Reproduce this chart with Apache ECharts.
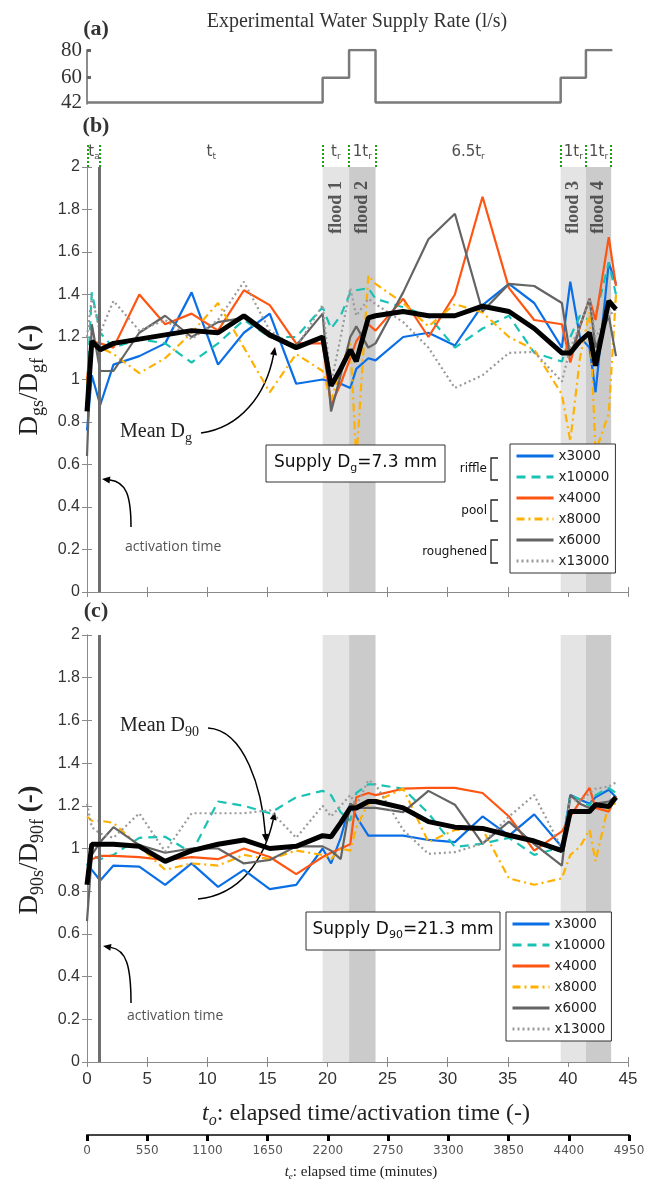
<!DOCTYPE html>
<html>
<head>
<meta charset="utf-8">
<script src="https://cdn.jsdelivr.net/npm/echarts@6/dist/echarts.min.js"></script>
<style>
html, body { margin: 0; padding: 0; background: #fff; }
#chart { width: 645px; height: 1182px; }
</style>
</head>
<body>
<div id="chart"></div>
<script>
// supply rate steps (panel a)
const flowT = [0, 19.6, 21.8, 24.0, 39.4, 41.5, 43.7];
const flowQ = [42, 60, 80, 42, 60, 80, 80];

// flood bands and phase markers
const floodStart = [19.6, 21.8, 39.4, 41.5];
const floodEnd = [21.8, 24.0, 41.5, 43.6];
const floodNames = ['flood 1', 'flood 2', 'flood 3', 'flood 4'];
const phaseEdges = [0.08, 1.08, 19.6, 21.8, 24.0, 39.4, 41.5, 43.6];
const phaseText = ['{t|t}{s|a}', '{t|t}{s|t}', '{t|t}{s|r}', '{t|1t}{s|r}', '{t|6.5t}{s|r}', '{t|1t}{s|r}', '{t|1t}{s|r}'];
const tAct = 1.05;

// sample times (elapsed time / activation time)
const tSample = [0, 0.4, 1.1, 2.2, 4.35, 6.5, 8.7, 10.9, 13.05, 15.2, 17.4, 19.6, 20.3, 21.1, 21.9, 22.4,
  23.4, 24.0, 26.3, 28.4, 30.6, 32.9, 35.1, 37.2, 39.5, 40.2, 41.0, 41.8, 42.3, 43.4, 44.0];

// panel b: Dgs/Dgf
const dgB_x3000 = [0.76, 1.02, 0.88, 1.07, 1.11, 1.17, 1.41, 1.07, 1.22, 1.31, 0.98, 1.00, 0.99, 0.98, 0.96, 1.05,
  1.10, 1.09, 1.20, 1.22, 1.16, 1.35, 1.45, 1.36, 1.15, 1.46, 1.20, 1.15, 0.94, 1.55, 1.45];
const dgB_x10000 = [0.95, 1.41, 1.22, 1.15, 1.19, 1.17, 1.08, 1.17, 1.28, 1.20, 1.20, 1.34, 1.24, 1.30, 1.41, 1.42,
  1.43, 1.38, 1.34, 1.30, 1.15, 1.24, 1.30, 1.125, 1.085, 1.20, 1.30, 1.28, 1.30, 1.55, 1.40];
const dgB_x4000 = [1.0, 1.18, 1.17, 1.15, 1.40, 1.26, 1.31, 1.23, 1.42, 1.35, 1.17, 1.17, 0.88, 0.98, 1.10, 1.18,
  1.26, 1.23, 1.38, 1.20, 1.40, 1.86, 1.43, 1.28, 1.26, 1.08, 1.25, 1.38, 1.28, 1.67, 1.44];
const dgB_x8000 = [0.98, 1.17, 1.15, 1.12, 1.03, 1.10, 1.22, 1.36, 1.15, 0.94, 1.12, 1.04, 0.90, 1.05, 1.18, 0.62,
  1.49, 1.45, 1.36, 1.25, 1.355, 1.315, 1.20, 1.14, 0.93, 0.71, 1.10, 1.32, 0.66, 0.84, 1.40];
const dgB_x6000 = [0.64, 1.26, 1.04, 1.04, 1.22, 1.30, 1.20, 1.27, 1.29, 1.20, 1.16, 1.31, 0.85, 1.02, 1.20, 1.25,
  1.15, 1.17, 1.41, 1.66, 1.78, 1.32, 1.45, 1.44, 1.36, 1.11, 1.25, 1.38, 1.15, 1.30, 1.11];
const dgB_x13000 = [1.20, 1.39, 1.22, 1.37, 1.23, 1.28, 1.19, 1.28, 1.46, 1.23, 1.15, 1.35, 0.98, 1.20, 1.43, 1.30,
  1.38, 1.355, 1.27, 1.15, 0.96, 1.02, 1.125, 1.13, 0.99, 1.15, 1.25, 1.38, 1.20, 1.30, 1.33];
const dgB_mean = [0.85, 1.18, 1.14, 1.17, 1.19, 1.21, 1.23, 1.22, 1.30, 1.21, 1.15, 1.20, 0.97, 1.05, 1.14, 1.085,
  1.29, 1.30, 1.32, 1.30, 1.30, 1.345, 1.32, 1.24, 1.125, 1.125, 1.18, 1.22, 1.065, 1.37, 1.33];

// panel c: D90s/D90f
const d90C_x3000 = [0.93, 0.90, 0.85, 0.92, 0.915, 0.83, 0.93, 0.82, 0.90, 0.81, 0.83, 1.00, 0.93, 1.05, 1.21, 1.15,
  1.06, 1.06, 1.06, 1.04, 1.03, 1.15, 1.06, 1.16, 1.007, 1.25, 1.23, 1.21, 1.24, 1.275, 1.24];
const d90C_x10000 = [0.92, 0.97, 0.95, 0.97, 1.05, 1.055, 0.98, 1.22, 1.20, 1.165, 1.24, 1.27, 1.25, 1.17, 1.13, 1.26,
  1.30, 1.30, 1.28, 1.165, 1.007, 1.023, 1.05, 0.97, 1.007, 1.25, 1.23, 1.20, 1.25, 1.284, 1.26];
const d90C_x4000 = [0.88, 0.95, 0.965, 0.965, 0.96, 0.946, 0.96, 0.95, 1.00, 0.96, 0.88, 0.96, 0.98, 1.00, 1.02, 1.24,
  1.26, 1.25, 1.28, 1.284, 1.284, 1.26, 1.15, 0.99, 1.08, 1.15, 1.22, 1.284, 1.19, 1.173, 1.245];
const d90C_x8000 = [1.15, 1.13, 1.13, 1.12, 1.01, 0.90, 0.93, 0.92, 0.97, 0.95, 0.99, 0.97, 0.95, 1.0, 0.99, 1.10,
  1.21, 1.22, 1.28, 1.03, 1.087, 1.09, 0.86, 0.83, 0.86, 0.97, 1.007, 1.087, 0.94, 1.21, 1.21];
const d90C_x6000 = [0.66, 0.97, 1.03, 1.10, 1.016, 0.98, 1.0, 1.0, 0.93, 0.946, 1.01, 1.01, 0.99, 0.95, 1.21, 1.19,
  1.19, 1.19, 1.17, 1.27, 1.205, 1.023, 1.126, 1.02, 0.92, 1.25, 1.21, 1.19, 1.21, 1.22, 1.245];
const d90C_x13000 = [1.21, 1.10, 1.07, 1.05, 1.165, 0.985, 1.165, 1.165, 1.165, 1.18, 1.05, 1.20, 1.15, 1.20, 1.25, 1.20,
  1.32, 1.30, 1.087, 0.975, 0.983, 1.023, 1.15, 1.25, 1.0, 1.23, 1.22, 1.26, 1.28, 1.29, 1.31];
const d90C_mean = [0.83, 1.02, 1.02, 1.02, 1.01, 0.94, 0.99, 1.02, 1.04, 1.0, 1.01, 1.06, 1.055, 1.12, 1.19, 1.19,
  1.22, 1.22, 1.19, 1.126, 1.10, 1.094, 1.062, 1.035, 0.99, 1.173, 1.173, 1.173, 1.205, 1.197, 1.24];

// minutes axis
const minuteMax = 4950, minuteStep = 550;

const names = ['x3000', 'x10000', 'x4000', 'x8000', 'x6000', 'x13000'];
const colors = ['#0a6fe6', '#19c2b4', '#ff5512', '#ffb000', '#646464', '#9a9a9a'];
const dashes = ['solid', [9, 6], 'solid', [8, 4, 2, 4], 'solid', [2, 3]];
const dgList = [dgB_x3000, dgB_x10000, dgB_x4000, dgB_x8000, dgB_x6000, dgB_x13000];
const d90List = [d90C_x3000, d90C_x10000, d90C_x4000, d90C_x8000, d90C_x6000, d90C_x13000];

const SERIF = 'Liberation Serif', SANS = 'Liberation Sans';
const L = 87, R = 17;
const axisGray = '#8a8a8a';

let chart = echarts.init(document.getElementById('chart'));

function pairs(ys) {
  return tSample.map((t, i) => [t, ys[i]]);
}

function lineSeries(name, ys, ax, color, dash, width, z) {
  return {
    name: name, type: 'line', xAxisIndex: ax, yAxisIndex: ax, data: pairs(ys),
    symbol: 'none', z: z, silent: true, color: color,
    itemStyle: {color: color},
    lineStyle: {color: color, type: dash, width: width}
  };
}

// flood shading + activation line, drawn under the data lines
function bgSeries(ax) {
  return {
    type: 'line', xAxisIndex: ax, yAxisIndex: ax, data: [], z: 1, silent: true,
    markArea: {
      silent: true,
      data: floodStart.map((s, i) => [
        {xAxis: s, itemStyle: {color: i % 2 ? '#cbcbcb' : '#e4e4e4'}},
        {xAxis: floodEnd[i]}
      ])
    },
    markLine: {
      silent: true, symbol: ['none', 'none'], label: {show: false},
      lineStyle: {color: '#6e6e6e', width: 3, type: 'solid'},
      data: [{xAxis: tAct}]
    }
  };
}

function boxAxes(gi, withLabels) {
  let x = [
    {gridIndex: gi, type: 'value', min: 0, max: 45, interval: 5, position: 'bottom',
      axisLine: {lineStyle: {color: axisGray}}, splitLine: {show: false},
      axisTick: {inside: true, length: 5, lineStyle: {color: axisGray}},
      axisLabel: {show: withLabels, fontFamily: SANS, fontSize: 17, color: '#333', margin: 9}},
    {gridIndex: gi, type: 'value', min: 0, max: 45, interval: 5, position: 'top',
      axisLine: {lineStyle: {color: axisGray}}, splitLine: {show: false},
      axisTick: {inside: true, length: 5, lineStyle: {color: axisGray}}, axisLabel: {show: false}}
  ];
  let y = [
    {gridIndex: gi, type: 'value', min: 0, max: 2, interval: 0.2, position: 'left',
      axisLine: {show: true, lineStyle: {color: axisGray}}, splitLine: {show: false},
      axisTick: {show: true, inside: true, length: 5, lineStyle: {color: axisGray}},
      axisLabel: {fontFamily: SANS, fontSize: 16, color: '#333', margin: 7}},
    {gridIndex: gi, type: 'value', min: 0, max: 2, interval: 0.2, position: 'right',
      axisLine: {show: true, lineStyle: {color: axisGray}}, splitLine: {show: false},
      axisTick: {show: true, inside: true, length: 5, lineStyle: {color: axisGray}}, axisLabel: {show: false}}
  ];
  return [x, y];
}

const bAxes = boxAxes(2, false);
const cAxes = boxAxes(3, true);

const xAxes = [
  {gridIndex: 0, type: 'value', min: 0, max: 45, show: false},
  {gridIndex: 1, type: 'value', min: 0, max: 45, show: false},
  bAxes[0][0], bAxes[0][1], cAxes[0][0], cAxes[0][1],
  {gridIndex: 4, type: 'value', min: 0, max: minuteMax, interval: minuteStep, position: 'bottom',
    axisLine: {lineStyle: {color: '#444', width: 2}}, splitLine: {show: false},
    axisTick: {inside: false, length: 6, lineStyle: {color: '#000', width: 3}},
    axisLabel: {fontFamily: 'DejaVu Sans', fontSize: 12, color: '#555', margin: 10, formatter: v => String(v)}}
];
const yAxes = [
  {gridIndex: 0, type: 'value', min: 41, max: 80, position: 'left',
    axisLine: {show: true, lineStyle: {color: '#666', width: 1.5}}, splitLine: {show: false},
    axisTick: {show: true, inside: true, length: 4, customValues: [60, 80], lineStyle: {color: '#666', width: 3}},
    axisLabel: {customValues: [42, 60, 80], fontFamily: SERIF, fontSize: 21, color: '#333', margin: 5}},
  {gridIndex: 1, type: 'value', min: 0, max: 1, show: false},
  bAxes[1][0], bAxes[1][1], cAxes[1][0], cAxes[1][1],
  {gridIndex: 4, type: 'value', min: 0, max: 1, show: false}
];

const series = [];
series.push({type: 'line', xAxisIndex: 0, yAxisIndex: 0, step: 'end', symbol: 'none', silent: true,
  data: flowT.map((t, i) => [t, flowQ[i]]), lineStyle: {color: '#7a7a7a', width: 2.5}});

// phase labels with green dotted markers
const phaseMid = phaseEdges.slice(1).map((e, i) => (e + phaseEdges[i]) / 2);
series.push({type: 'scatter', xAxisIndex: 1, yAxisIndex: 1, symbolSize: 0, silent: true,
  data: phaseMid.map(t => [t, 0.6]),
  label: {show: true, position: 'inside', formatter: p => phaseText[p.dataIndex],
    rich: {t: {fontFamily: 'DejaVu Sans', fontSize: 15, color: '#222'},
      s: {fontFamily: 'DejaVu Sans', fontSize: 9, color: '#222', padding: [9, 0, 0, 0]}}},
  markLine: {silent: true, symbol: ['none', 'none'], label: {show: false},
    lineStyle: {color: '#1f9e1f', type: [2, 2], width: 2},
    data: phaseEdges.map(e => ({xAxis: e}))}});

series.push(bgSeries(2));
series.push(bgSeries(4));

// flood labels in panel b
series.push({type: 'scatter', xAxisIndex: 2, yAxisIndex: 2, symbolSize: 0, silent: true, z: 3,
  data: floodStart.map((s, i) => [(s + floodEnd[i]) / 2, 1.81]),
  label: {show: true, position: 'inside', rotate: 90, formatter: p => floodNames[p.dataIndex],
    fontFamily: SERIF, fontWeight: 'bold', fontSize: 18, color: '#333'}});

names.forEach((n, i) => {
  series.push(lineSeries(n, dgList[i], 2, colors[i], dashes[i], 2.2, 3));
  series.push(lineSeries(n, d90List[i], 4, colors[i], dashes[i], 2.2, 3));
});
series.push(lineSeries('Mean Dg', dgB_mean, 2, '#000', 'solid', 5, 5));
series.push(lineSeries('Mean D90', d90C_mean, 4, '#000', 'solid', 5, 5));

function legendAt(left, top) {
  return {data: names, left: left, top: top, orient: 'vertical', selectedMode: false,
    itemWidth: 37, itemHeight: 14, itemGap: 7, backgroundColor: '#fff',
    borderColor: '#333', borderWidth: 1, padding: [5, 6, 5, 5],
    itemStyle: {opacity: 0}, lineStyle: {width: 3},
    textStyle: {fontFamily: 'DejaVu Sans', fontSize: 13.5, color: '#222'}};
}

// annotation helpers
function arrow(p0, c1, c2, p1) {
  let dx = p1[0] - c2[0], dy = p1[1] - c2[1];
  let len = Math.hypot(dx, dy), ux = dx / len, uy = dy / len;
  let bx = p1[0] - ux * 8, by = p1[1] - uy * 8;
  return [
    {type: 'bezierCurve', silent: true, shape: {x1: p0[0], y1: p0[1], cpx1: c1[0], cpy1: c1[1],
      cpx2: c2[0], cpy2: c2[1], x2: bx, y2: by}, style: {stroke: '#000', lineWidth: 1.5, fill: 'none'}},
    {type: 'polygon', silent: true, shape: {points: [p1, [bx - uy * 3.5, by + ux * 3.5], [bx + uy * 3.5, by - ux * 3.5]]},
      style: {fill: '#000'}}
  ];
}

function text(x, y, str, st, extra) {
  return Object.assign({type: 'text', x: x, y: y, silent: true,
    style: Object.assign({text: str, align: 'center', verticalAlign: 'middle', fill: '#222'}, st)}, extra || {});
}

function bracket(x, y1, y2) {
  return {type: 'polyline', silent: true, shape: {points: [[x + 7, y1], [x, y1], [x, y2], [x + 7, y2]]},
    style: {stroke: '#222', lineWidth: 1.3, fill: 'none'}};
}

const richSerif = (main, sub, off) => ({
  n: {fontFamily: SERIF, fontSize: main, fill: '#222'},
  b: {fontFamily: SERIF, fontSize: main, fontWeight: 'bold', fill: '#222'},
  i: {fontFamily: SERIF, fontSize: main, fontStyle: 'italic', fill: '#222'},
  s: {fontFamily: SERIF, fontSize: sub, fill: '#222', padding: [off, 0, 0, 0]},
  si: {fontFamily: SERIF, fontSize: sub, fontStyle: 'italic', fill: '#222', padding: [off, 0, 0, 0]}
});
const richSans = (main, sub, off) => ({
  n: {fontFamily: 'DejaVu Sans', fontSize: main, fill: '#111'},
  s: {fontFamily: 'DejaVu Sans', fontSize: sub, fill: '#111', padding: [off, 0, 0, 0]}
});

let graphic = [];
graphic.push(text(357, 22, 'Experimental Water Supply Rate (l/s)', {fontFamily: SERIF, fontSize: 20, fill: '#333'}));
[['(a)', 29], ['(b)', 126], ['(c)', 611]].forEach(d => {
  graphic.push(text(96, d[1], d[0], {fontFamily: SERIF, fontSize: 22, fontWeight: 'bold', fill: '#333'}));
});
graphic.push(text(30, 380, '{n|D}{s|gs}{n|/D}{s|gf}{b| (-)}', {rich: richSerif(27, 18, 16)}, {rotation: Math.PI / 2}));
graphic.push(text(30, 850, '{n|D}{s|90s}{n|/D}{s|90f}{b| (-)}', {rich: richSerif(27, 18, 16)}, {rotation: Math.PI / 2}));
graphic.push(text(366, 1114, '{i|t}{si|o}{n|: elapsed time/activation time (-)}', {rich: richSerif(24, 16, 14)}));
graphic.push(text(361, 1172, '{i|t}{si|e}{n|: elapsed time (minutes)}', {rich: richSerif(15, 9, 9)}));

// mean annotations
graphic.push(text(120, 432, '{n|Mean D}{s|g}', {align: 'left', rich: richSerif(20, 14, 12)}));
graphic = graphic.concat(arrow([201, 433], [240, 428], [266, 395], [275, 347]));
graphic.push(text(120, 726, '{n|Mean D}{s|90}', {align: 'left', rich: richSerif(20, 14, 12)}));
graphic = graphic.concat(arrow([208, 728], [245, 730], [262, 790], [266, 842]));
graphic = graphic.concat(arrow([198, 899], [240, 895], [264, 860], [275, 812]));

// activation time notes
graphic.push(text(125, 547, 'activation time', {align: 'left', fontFamily: 'Open Sans', fontSize: 14, fill: '#555'}));
graphic = graphic.concat(arrow([131, 527], [131, 495], [126, 482], [102, 479]));
graphic.push(text(127, 1016, 'activation time', {align: 'left', fontFamily: 'Open Sans', fontSize: 14, fill: '#555'}));
graphic = graphic.concat(arrow([131, 1003], [131, 965], [126, 950], [103, 946]));

// supply boxes
graphic.push({type: 'rect', silent: true, shape: {x: 266, y: 445, width: 179, height: 37},
  style: {fill: '#fff', stroke: '#333', lineWidth: 1}, z: 20});
graphic.push(text(355.5, 463, '{n|Supply D}{s|g}{n|=7.3 mm}', {rich: richSans(17, 11, 10)}, {z: 21}));
graphic.push({type: 'rect', silent: true, shape: {x: 306, y: 912, width: 194, height: 38},
  style: {fill: '#fff', stroke: '#333', lineWidth: 1}, z: 20});
graphic.push(text(403, 930, '{n|Supply D}{s|90}{n|=21.3 mm}', {rich: richSans(17, 11, 10)}, {z: 21}));

// sample group brackets
[['riffle', 469, 458, 480], ['pool', 511, 500, 521], ['roughened', 552, 540, 563]].forEach(d => {
  graphic.push(text(487, d[1], d[0], {align: 'right', fontFamily: 'DejaVu Sans', fontSize: 12, fill: '#111'}));
  graphic.push(bracket(491, d[2], d[3]));
});

const option = {
  animation: false,
  backgroundColor: '#fff',
  grid: [
    {left: L, right: R, top: 50, height: 54, outerBoundsMode: 'none'},
    {left: L, right: R, top: 143, height: 24, outerBoundsMode: 'none'},
    {left: L, right: R, top: 167, height: 425, outerBoundsMode: 'none'},
    {left: L, right: R, top: 635, height: 427, outerBoundsMode: 'none'},
    {left: L, right: R - 1, top: 1134, height: 1, outerBoundsMode: 'none'}
  ],
  xAxis: xAxes,
  yAxis: yAxes,
  legend: [legendAt(510, 444), legendAt(506, 912)],
  series: series,
  graphic: graphic
};
chart.setOption(option);
</script>
</body>
</html>
